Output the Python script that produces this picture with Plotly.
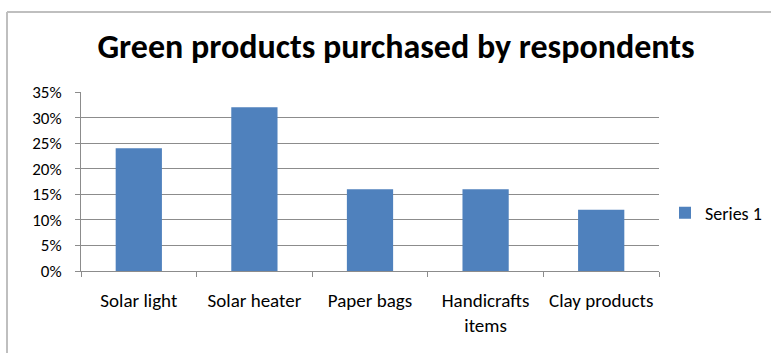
import plotly.graph_objects as go

# Share of respondents who purchased each green product (%)
categories = ["Solar light", "Solar heater", "Paper bags", "Handicrafts<br>items", "Clay products"]
series_1 = [24, 32, 16, 16, 12]
y_ticks = [0, 5, 10, 15, 20, 25, 30, 35]
y_tick_labels = [f"{v}%" for v in y_ticks]

FONT = "Carlito, Lato, sans-serif"
BAR_COLOR = "#4F81BD"
GRID = "#8c8c8c"

fig = go.Figure()
fig.add_trace(go.Bar(
    x=categories,
    y=series_1,
    name="Series 1",
    marker=dict(color=BAR_COLOR, line=dict(width=0)),
    width=0.4,
))

W, H = 771, 353
L, R, T, B = 81, 112, 92, 82
pw, ph = W - L - R, H - T - B


def px(x):
    return (x - L) / pw


def py(y):
    return (H - B - y) / ph


fig.update_layout(
    width=W,
    height=H,
    margin=dict(l=L, r=R, t=T, b=B, autoexpand=False),
    paper_bgcolor="white",
    plot_bgcolor="white",
    font=dict(family=FONT, color="#000000"),
    title=dict(
        text="<b>Green products purchased by respondents</b>",
        font=dict(family=FONT, size=34, color="#000000"),
        x=396 / W, xanchor="center",
        y=1 - 46 / H, yanchor="middle",
    ),
    showlegend=True,
    legend=dict(
        x=px(665), xanchor="left",
        y=py(213), yanchor="middle",
        font=dict(family=FONT, size=18, color="#000000"),
        itemwidth=30,
        bgcolor="rgba(0,0,0,0)",
    ),
    bargap=0.6,
    xaxis=dict(
        type="category",
        tickson="boundaries",
        ticks="outside",
        ticklen=5,
        tickcolor=GRID,
        tickangle=0,
        showline=True,
        linecolor=GRID,
        linewidth=1,
        showgrid=False,
        tickfont=dict(family=FONT, size=19, color="#000000"),
        ticklabelstandoff=12,
    ),
    yaxis=dict(
        range=[0, 35],
        tickvals=y_ticks,
        ticktext=y_tick_labels,
        ticks="outside",
        ticklen=5,
        tickcolor=GRID,
        showline=True,
        linecolor=GRID,
        linewidth=1,
        showgrid=True,
        gridcolor=GRID,
        gridwidth=1,
        zeroline=False,
        tickfont=dict(family=FONT, size=17, color="#000000"),
        ticklabelstandoff=10,
    ),
    shapes=[
        # outer chart frame (left and top edges)
        dict(type="line", xref="paper", yref="paper",
             x0=px(7), x1=px(7), y0=py(12), y1=py(H + 5),
             line=dict(color="#bfbfbf", width=2)),
        dict(type="line", xref="paper", yref="paper",
             x0=px(7), x1=px(W + 5), y0=py(12), y1=py(12),
             line=dict(color="#bfbfbf", width=2)),
    ],
)

fig.write_html("out.html")
